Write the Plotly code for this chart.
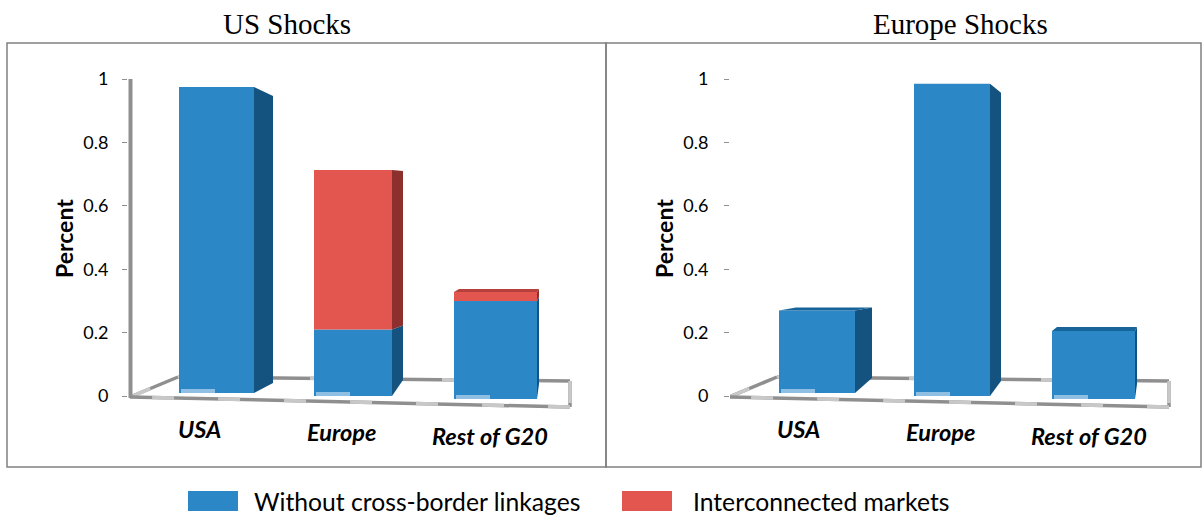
import plotly.graph_objects as go

categories = ["USA", "Europe", "Rest of G20"]
us_without = [0.975, 0.21, 0.30]
us_inter = [0.0, 0.503, 0.028]
eu_without = [0.27, 0.985, 0.205]
eu_inter = [0.0, 0.0, 0.0]
y_ticks = [0, 0.2, 0.4, 0.6, 0.8, 1]
series_names = ["Without cross-border linkages", "Interconnected markets"]

BLUE, BLUE_DK, BLUE_TOP = "#2b87c6", "#14537f", "#17649a"
RED, RED_DK, RED_TOP = "#e35650", "#8d2f2d", "#b5403c"
GREY, GREY_LT = "#8f8f8f", "#c8c8c8"
W, H = 1202, 518
PX_PER_UNIT, Y0_PX = 317.0, 396.0
TOP_PX, BOT_PX = 58.0, 445.0


def yv(px):
    return (Y0_PX - px) / PX_PER_UNIT


def pr(x, y):
    return x / W, 1 - y / H


# Geometry of the pseudo-3D drawing, per panel, in page pixels
panels = [
    dict(xax="x", yax="y", left=128, right=580, title="US Shocks", title_x=286.5,
         without=us_without, inter=us_inter,
         front=[(179, 254), (314, 392), (454, 537)], floor_dx=0,
         depth=[(19, 9), (11, 1), (2, -3)], back=[383, 380, 384], line=True,
         labels=[199.5, 341.5, 490], percent=64),
    dict(xax="x2", yax="y2", left=730, right=1180, title="Europe Shocks", title_x=960,
         without=eu_without, inter=eu_inter,
         front=[(779, 855), (914, 990), (1052, 1135)], floor_dx=599,
         depth=[(17, -3), (11, 9), (2, -4)], back=[378, 381, 384], line=False,
         labels=[798, 940, 1089], percent=664),
]
bases_px = [393, 396, 399]
label_y = [429, 432, 436]

fig = go.Figure()
shapes = []


def poly(p, xs, ys, color):
    fig.add_trace(go.Scatter(x=xs, y=[yv(v) for v in ys], mode="lines", fill="toself",
                             fillcolor=color, line=dict(width=0), xaxis=p["xax"], yaxis=p["yax"],
                             hoverinfo="skip", showlegend=False))


for p in panels:
    d = p["floor_dx"]
    # floor outline sits underneath the bars, so it is drawn as below-layer shapes
    corners = [(130 + d, 397), (178 + d, 377), (570 + d, 381), (570 + d, 407)]
    edges = list(zip(corners, corners[1:] + corners[:1]))
    for (ax, ay), (bx, by) in edges:
        base_line = dict(type="line", xref=p["xax"], yref=p["yax"], x0=ax, x1=bx, y0=yv(ay), y1=yv(by),
                         layer="below")
        shapes.append({**base_line, "line": dict(color=GREY, width=3.5)})
        shapes.append({**base_line, "line": dict(color=GREY_LT, width=3.5, dash="22px,44px")})
    if p["line"]:
        shapes.append(dict(type="line", xref=p["xax"], yref=p["yax"], x0=130.5, x1=130.5, y0=yv(398), y1=1,
                           layer="below", line=dict(color=GREY, width=4)))

    for i, cat in enumerate(categories):
        x0, x1 = p["front"][i]
        dx, dy = p["depth"][i]
        base = bases_px[i]
        blue_top = Y0_PX - p["without"][i] * PX_PER_UNIT
        total = p["without"][i] + p["inter"][i]
        total_top = Y0_PX - total * PX_PER_UNIT
        back_bottom = p["back"][i]
        has_red = p["inter"][i] > 0
        # side face
        blue_back_top = blue_top + dy if not has_red else blue_top - 4
        poly(p, [x1, x1 + dx, x1 + dx, x1, x1], [base, back_bottom, blue_back_top, blue_top, base], BLUE_DK)
        if has_red:
            poly(p, [x1, x1 + dx, x1 + dx, x1, x1],
                 [blue_top, blue_back_top, total_top + dy, total_top, blue_top], RED_DK)
        # top face, for bars seen from above
        if dy < 0:
            top_col = RED_TOP if has_red else BLUE_TOP
            poly(p, [x0, x0 + max(dx, 5), x1 + dx, x1, x0],
                 [total_top, total_top + dy, total_top + dy, total_top, total_top], top_col)
        # front faces
        fig.add_trace(go.Bar(x=[(x0 + x1) / 2], y=[p["without"][i] - yv(base)], base=[yv(base)],
                             width=[x1 - x0], marker=dict(color=BLUE, line=dict(width=0)),
                             name=series_names[0], showlegend=False,
                             xaxis=p["xax"], yaxis=p["yax"]))
        if has_red:
            fig.add_trace(go.Bar(x=[(x0 + x1) / 2], y=[p["inter"][i]], base=[p["without"][i]],
                                 width=[x1 - x0], marker=dict(color=RED, line=dict(width=0)),
                                 name=series_names[1], showlegend=False,
                                 xaxis=p["xax"], yaxis=p["yax"]))
        # reflection at the foot of the bar
        poly(p, [x0 + 2, x0 + 36, x0 + 36, x0 + 2, x0 + 2],
             [base, base, base - 4, base - 4, base], "#8fbfe3")

    for i, cat in enumerate(categories):
        fig.add_annotation(x=p["labels"][i], y=yv(label_y[i]), xref=p["xax"], yref=p["yax"],
                           text=f"<b><i>{cat}</i></b>", showarrow=False, xanchor="center", yanchor="middle",
                           font=dict(family="Lato", size=23.5, color="#000000"))

    px_, py_ = pr(p["percent"], 239)
    fig.add_annotation(x=px_, y=py_, xref="paper", yref="paper", text="<b>Percent</b>", xanchor="center",
                       yanchor="middle", textangle=-90, showarrow=False,
                       font=dict(family="Lato", size=23, color="#000000"))
    tx_, ty_ = pr(p["title_x"], 24)
    fig.add_annotation(x=tx_, y=ty_, xref="paper", yref="paper", text=p["title"], xanchor="center",
                       yanchor="middle", showarrow=False,
                       font=dict(family="Liberation Serif", size=29, color="#000000"))

common_y = dict(range=[yv(BOT_PX), yv(TOP_PX)], domain=[1 - BOT_PX / H, 1 - TOP_PX / H], tickmode="array",
                tickvals=y_ticks, ticktext=[f"{t:g}" for t in y_ticks], ticks="outside", ticklen=5,
                tickcolor=GREY, showgrid=False, zeroline=False, showline=False,
                tickfont=dict(family="Lato", size=18, color="#000000"))
fig.update_layout(
    width=W, height=H, margin=dict(l=0, r=0, t=0, b=0), paper_bgcolor="#ffffff", plot_bgcolor="rgba(0,0,0,0)",
    barmode="overlay", showlegend=False,
    xaxis=dict(range=[128, 580], domain=[128 / W, 580 / W], visible=False),
    xaxis2=dict(range=[730, 1180], domain=[730 / W, 1180 / W], visible=False),
    yaxis=dict(**common_y, anchor="x", ticklabelstandoff=10),
    yaxis2=dict(**common_y, anchor="x2", ticklabelstandoff=12),
)

for a, b, c, e in [(7, 43, 606, 467), (606, 43, 1201, 467)]:
    x0, y0 = pr(a, b)
    x1, y1 = pr(c, e)
    shapes.append(dict(type="rect", xref="paper", yref="paper", x0=x0, y0=y0, x1=x1, y1=y1,
                       line=dict(color="#808080", width=1.5), layer="below"))
for a, col in [(188, BLUE), (622, RED)]:
    x0, y0 = pr(a, 491)
    x1, y1 = pr(a + 50, 511)
    shapes.append(dict(type="rect", xref="paper", yref="paper", x0=x0, y0=y0, x1=x1, y1=y1,
                       fillcolor=col, line=dict(width=0)))
fig.update_layout(shapes=shapes)
for name, xpx in zip(series_names, [252, 691]):
    x, y = pr(xpx, 501)
    fig.add_annotation(x=x, y=y, xref="paper", yref="paper", text=name, xanchor="left", yanchor="middle",
                       showarrow=False, font=dict(family="Lato", size=24.7, color="#000000"))

fig.write_html("out.html", post_script="document.body.style.margin='0';",
               config={"displayModeBar": False})
